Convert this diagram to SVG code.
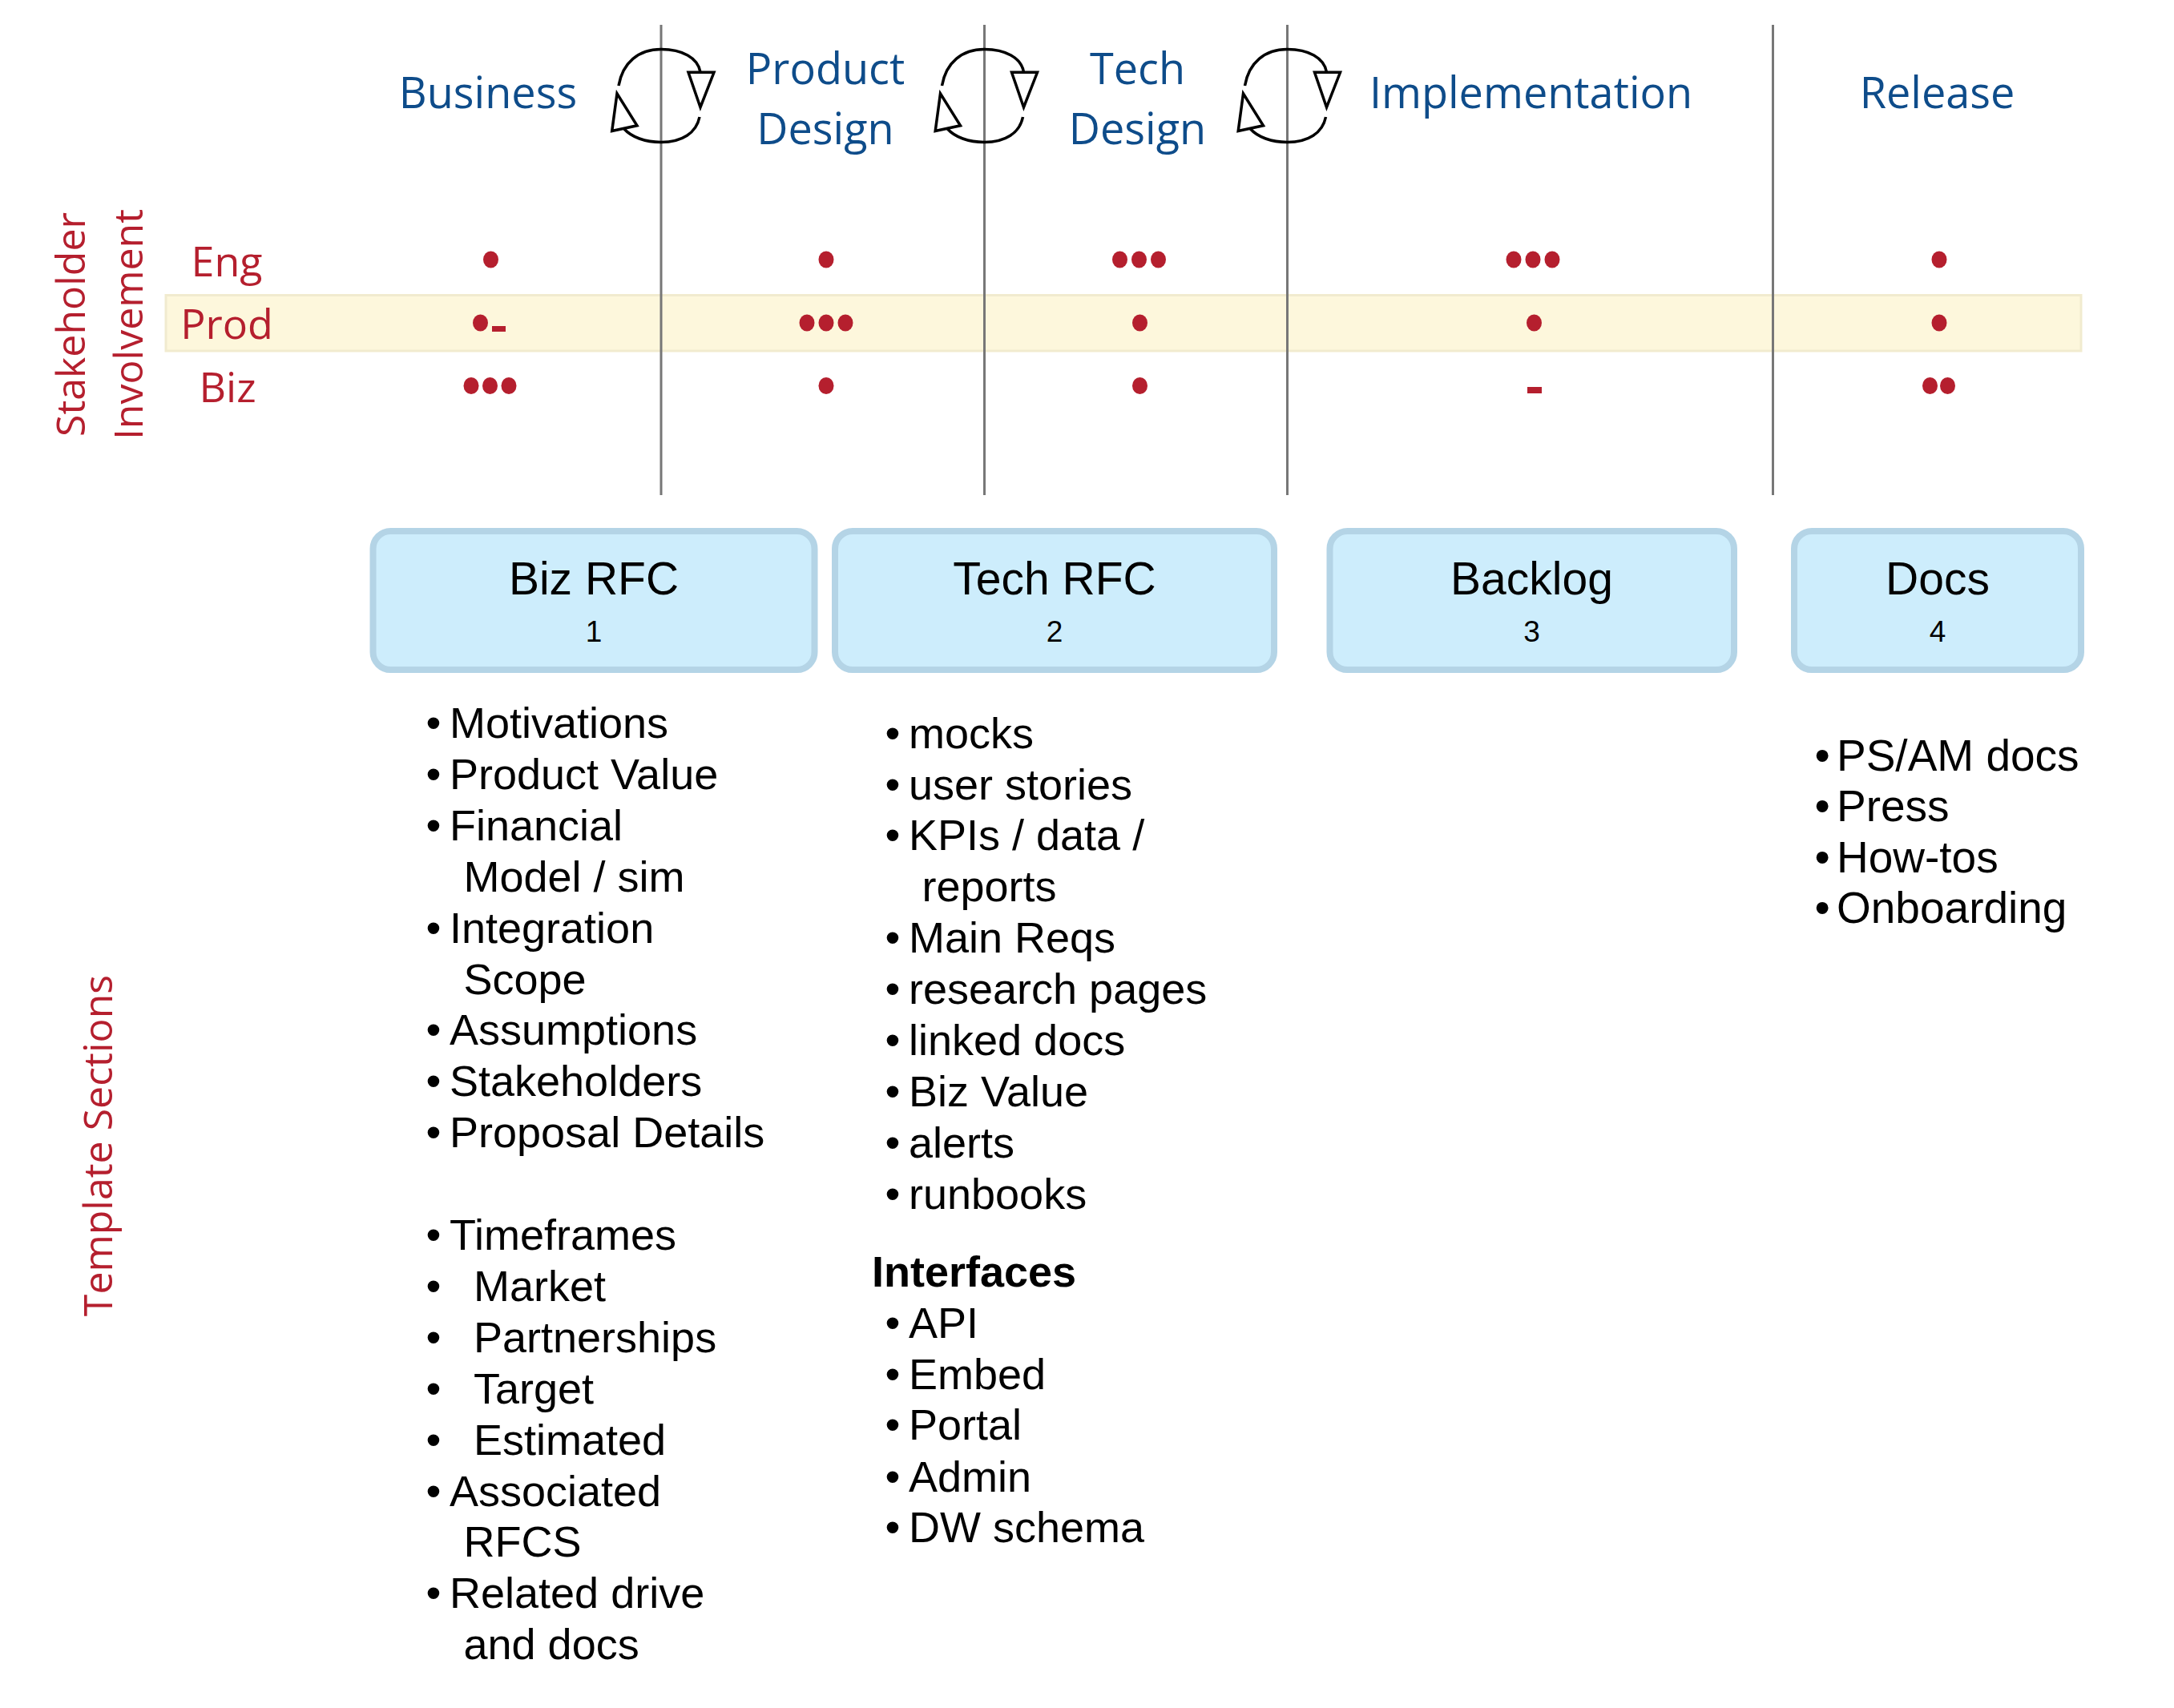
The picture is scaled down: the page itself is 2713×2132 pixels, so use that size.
<svg xmlns="http://www.w3.org/2000/svg" width="2713" height="2132" viewBox="0 0 2713 2132">
<style>
.hdr{font-family:"Open Sans","Noto Sans",sans-serif;font-size:54px;fill:#0e4c8a;text-anchor:middle}
.red{font-family:"Open Sans","Noto Sans",sans-serif;fill:#b51f2e;text-anchor:middle}
.row{font-size:52px}
.side{font-size:50px}
.dot{fill:#b51f2e}
.vl{stroke:#777;stroke-width:3}
.cyc{fill:none;stroke:#000;stroke-width:3.5;stroke-linecap:butt}
.ah{fill:#fff;stroke:#000;stroke-width:3.5;stroke-linejoin:miter}
.band{fill:#fdf7dc;stroke:#f1ebcf;stroke-width:3}
.box{fill:#cdedfc;stroke:#b4d4e6;stroke-width:8}
.bt{font-family:"Liberation Sans",Arial,sans-serif;font-size:57px;text-anchor:middle;fill:#000}
.bn{font-family:"Liberation Sans",Arial,sans-serif;font-size:37px;text-anchor:middle;fill:#000}
.li{font-family:"Liberation Sans",Arial,sans-serif;font-size:54px;fill:#000}
.li2{font-family:"Liberation Sans",Arial,sans-serif;font-size:55px;fill:#000}
.bold{font-weight:bold}
</style>
<defs>
<g id="cycle">
<path class="cyc" d="M -53,107 C -48,78 -28,61.5 0,61.5 C 26,61.5 46,72 49,90"/>
<polygon class="ah" points="34,90.3 66,90.3 49,134"/>
<path class="cyc" d="M 48,146 C 44,166 26,177.5 0,177.5 C -20,177.5 -37,171 -46,161"/>
<polygon class="ah" points="-61.3,163.5 -30,156.7 -55,116.7"/>
</g>
</defs>
<rect width="2713" height="2132" fill="#fff"/>

<g id="prod-band"><rect class="band" x="207" y="368.5" width="2390" height="69.5"/></g>

<g id="phase-dividers">
<line class="vl" x1="825" y1="31" x2="825" y2="618"/>
<line class="vl" x1="1228.5" y1="31" x2="1228.5" y2="618"/>
<line class="vl" x1="1606.5" y1="31" x2="1606.5" y2="618"/>
<line class="vl" x1="2212.5" y1="31" x2="2212.5" y2="618"/>
</g>

<g id="phase-business"><text class="hdr" x="609" y="135">Business</text></g>
<g id="phase-product-design"><text class="hdr" x="1030" y="105">Product</text><text class="hdr" x="1030" y="180">Design</text></g>
<g id="phase-tech-design"><text class="hdr" x="1419.5" y="105">Tech</text><text class="hdr" x="1419.5" y="180">Design</text></g>
<g id="phase-implementation"><text class="hdr" x="1910.5" y="135">Implementation</text></g>
<g id="phase-release"><text class="hdr" x="2417.5" y="135">Release</text></g>

<g id="connectors">
<use href="#cycle" transform="translate(825,0)"/>
<use href="#cycle" transform="translate(1228.5,0)"/>
<use href="#cycle" transform="translate(1606.5,0)"/>
</g>

<g id="stakeholder-label">
<text class="red side" transform="translate(106,405) rotate(-90)">Stakeholder</text>
<text class="red side" transform="translate(178,405) rotate(-90)">Involvement</text>
</g>
<g id="row-labels">
<text class="red row" x="283" y="345">Eng</text>
<text class="red row" x="283" y="423">Prod</text>
<text class="red row" x="284" y="502">Biz</text>
</g>

<g id="involvement-business">
<ellipse class="dot" cx="612.5" cy="324" rx="9.5" ry="10.5"/>
<ellipse class="dot" cx="599.5" cy="403" rx="9.5" ry="10.5"/>
<rect class="dot" x="614" y="407" width="17" height="7"/>
<ellipse class="dot" cx="588" cy="481.5" rx="9.5" ry="10.5"/>
<ellipse class="dot" cx="611.5" cy="481.5" rx="9.5" ry="10.5"/>
<ellipse class="dot" cx="635" cy="481.5" rx="9.5" ry="10.5"/>
</g>
<g id="involvement-product-design">
<ellipse class="dot" cx="1031" cy="324" rx="9.5" ry="10.5"/>
<ellipse class="dot" cx="1007" cy="403" rx="9.5" ry="10.5"/>
<ellipse class="dot" cx="1031" cy="403" rx="9.5" ry="10.5"/>
<ellipse class="dot" cx="1055" cy="403" rx="9.5" ry="10.5"/>
<ellipse class="dot" cx="1031" cy="481.5" rx="9.5" ry="10.5"/>
</g>
<g id="involvement-tech-design">
<ellipse class="dot" cx="1397.5" cy="324" rx="9.5" ry="10.5"/>
<ellipse class="dot" cx="1421.5" cy="324" rx="9.5" ry="10.5"/>
<ellipse class="dot" cx="1445.5" cy="324" rx="9.5" ry="10.5"/>
<ellipse class="dot" cx="1422.5" cy="403" rx="9.5" ry="10.5"/>
<ellipse class="dot" cx="1422.5" cy="481.5" rx="9.5" ry="10.5"/>
</g>
<g id="involvement-implementation">
<ellipse class="dot" cx="1889" cy="324" rx="9.5" ry="10.5"/>
<ellipse class="dot" cx="1913" cy="324" rx="9.5" ry="10.5"/>
<ellipse class="dot" cx="1937" cy="324" rx="9.5" ry="10.5"/>
<ellipse class="dot" cx="1914.5" cy="403" rx="9.5" ry="10.5"/>
<rect class="dot" x="1906" y="483" width="18" height="8"/>
</g>
<g id="involvement-release">
<ellipse class="dot" cx="2420" cy="324" rx="9.5" ry="10.5"/>
<ellipse class="dot" cx="2420" cy="403" rx="9.5" ry="10.5"/>
<ellipse class="dot" cx="2408.5" cy="481.5" rx="9.5" ry="10.5"/>
<ellipse class="dot" cx="2430.5" cy="481.5" rx="9.5" ry="10.5"/>
</g>

<g id="node-biz-rfc">
<rect class="box" x="465.5" y="663" width="551" height="173" rx="22"/>
<text class="bt" x="741" y="742">Biz RFC</text>
<text class="bn" x="741" y="801">1</text>
</g>
<g id="node-tech-rfc">
<rect class="box" x="1042" y="663" width="548" height="173" rx="22"/>
<text class="bt" x="1316" y="742">Tech RFC</text>
<text class="bn" x="1316" y="801">2</text>
</g>
<g id="node-backlog">
<rect class="box" x="1659.5" y="663" width="504.5" height="173" rx="22"/>
<text class="bt" x="1911.5" y="742">Backlog</text>
<text class="bn" x="1911.5" y="801">3</text>
</g>
<g id="node-docs">
<rect class="box" x="2239" y="663" width="358" height="173" rx="22"/>
<text class="bt" x="2418" y="742">Docs</text>
<text class="bn" x="2418" y="801">4</text>
</g>

<g id="template-label">
<text class="red side" transform="translate(140,1430) rotate(-90)">Template Sections</text>
</g>

<g id="biz-rfc-sections" class="li">
<text y="921"><tspan x="531.5">•</tspan><tspan x="561">Motivations</tspan></text>
<text y="985"><tspan x="531.5">•</tspan><tspan x="561">Product Value</tspan></text>
<text y="1049"><tspan x="531.5">•</tspan><tspan x="561">Financial</tspan></text>
<text y="1112.5"><tspan x="578.5">Model / sim</tspan></text>
<text y="1176.5"><tspan x="531.5">•</tspan><tspan x="561">Integration</tspan></text>
<text y="1240.5"><tspan x="578.5">Scope</tspan></text>
<text y="1304"><tspan x="531.5">•</tspan><tspan x="561">Assumptions</tspan></text>
<text y="1368"><tspan x="531.5">•</tspan><tspan x="561">Stakeholders</tspan></text>
<text y="1432"><tspan x="531.5">•</tspan><tspan x="561">Proposal Details</tspan></text>
<text y="1560"><tspan x="531.5">•</tspan><tspan x="561">Timeframes</tspan></text>
<text y="1624"><tspan x="531.5">•</tspan><tspan x="591">Market</tspan></text>
<text y="1688"><tspan x="531.5">•</tspan><tspan x="591">Partnerships</tspan></text>
<text y="1751.5"><tspan x="531.5">•</tspan><tspan x="591">Target</tspan></text>
<text y="1815.5"><tspan x="531.5">•</tspan><tspan x="591">Estimated</tspan></text>
<text y="1879.5"><tspan x="531.5">•</tspan><tspan x="561">Associated</tspan></text>
<text y="1943"><tspan x="578.5">RFCS</tspan></text>
<text y="2007"><tspan x="531.5">•</tspan><tspan x="561">Related drive</tspan></text>
<text y="2071"><tspan x="578.5">and docs</tspan></text>
</g>

<g id="tech-rfc-sections" class="li">
<text y="933.5"><tspan x="1104.5">•</tspan><tspan x="1134">mocks</tspan></text>
<text y="997.5"><tspan x="1104.5">•</tspan><tspan x="1134">user stories</tspan></text>
<text y="1061"><tspan x="1104.5">•</tspan><tspan x="1134">KPIs / data /</tspan></text>
<text y="1125"><tspan x="1150.5">reports</tspan></text>
<text y="1189"><tspan x="1104.5">•</tspan><tspan x="1134">Main Reqs</tspan></text>
<text y="1253"><tspan x="1104.5">•</tspan><tspan x="1134">research pages</tspan></text>
<text y="1317"><tspan x="1104.5">•</tspan><tspan x="1134">linked docs</tspan></text>
<text y="1380.5"><tspan x="1104.5">•</tspan><tspan x="1134">Biz Value</tspan></text>
<text y="1444.5"><tspan x="1104.5">•</tspan><tspan x="1134">alerts</tspan></text>
<text y="1508.5"><tspan x="1104.5">•</tspan><tspan x="1134">runbooks</tspan></text>
<text class="bold" x="1088" y="1606">Interfaces</text>
<text y="1670"><tspan x="1104.5">•</tspan><tspan x="1134">API</tspan></text>
<text y="1733.5"><tspan x="1104.5">•</tspan><tspan x="1134">Embed</tspan></text>
<text y="1797"><tspan x="1104.5">•</tspan><tspan x="1134">Portal</tspan></text>
<text y="1861.5"><tspan x="1104.5">•</tspan><tspan x="1134">Admin</tspan></text>
<text y="1925"><tspan x="1104.5">•</tspan><tspan x="1134">DW schema</tspan></text>
</g>

<g id="docs-sections" class="li2">
<text y="961.5"><tspan x="2264.5">•</tspan><tspan x="2292">PS/AM docs</tspan></text>
<text y="1025"><tspan x="2264.5">•</tspan><tspan x="2292">Press</tspan></text>
<text y="1088.5"><tspan x="2264.5">•</tspan><tspan x="2292">How-tos</tspan></text>
<text y="1151.5"><tspan x="2264.5">•</tspan><tspan x="2292">Onboarding</tspan></text>
</g>
</svg>
